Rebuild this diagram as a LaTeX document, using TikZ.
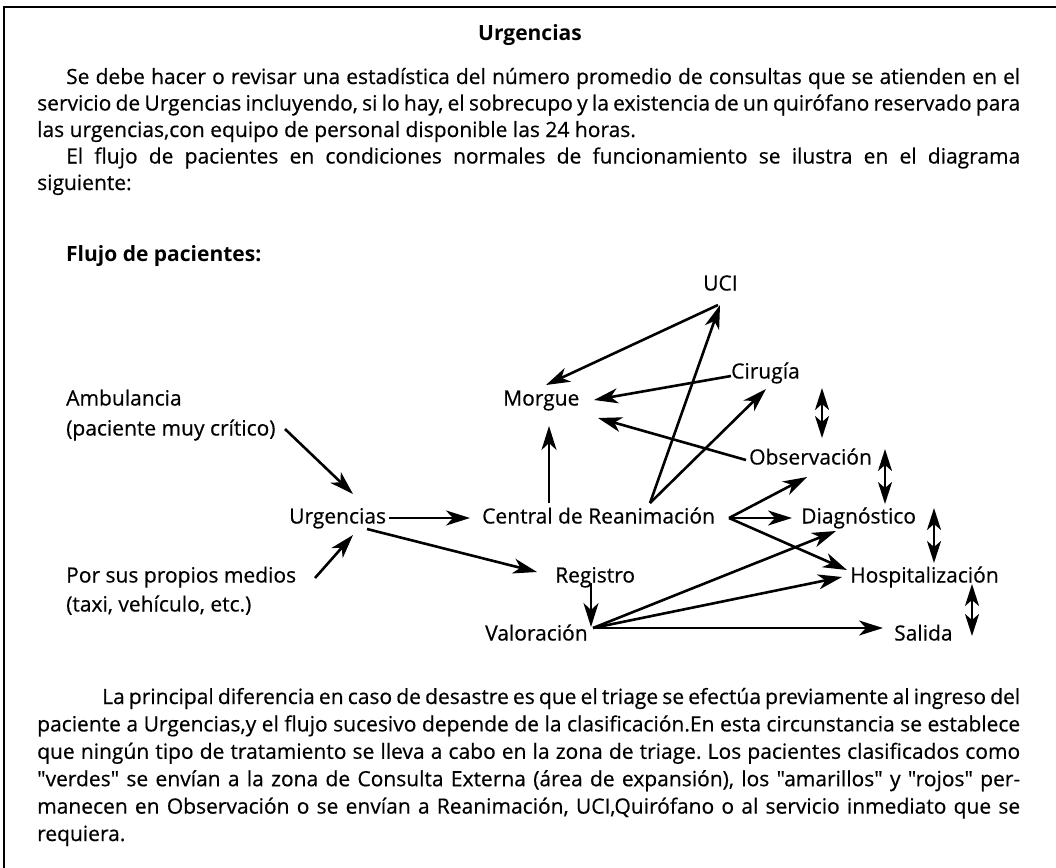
\documentclass[tikz,border=0pt]{standalone}
\usepackage{fontspec}
\setmainfont{Open Sans}[Ligatures=TeXOff,UprightFeatures={FakeBold=0.5}]
\usetikzlibrary{arrows.meta}
\newcommand\txtfont{\fontsize{21}{26.5}\selectfont\frenchspacing}
\newcommand\txtfontb{\fontsize{21}{27.4}\selectfont\frenchspacing}
% a justified line of given width, and a line at natural width
\newcommand\jl[2]{\makebox[#1][s]{\spaceskip=0.26em plus 1em minus 0.12em\relax #2}}
\newcommand\nl[1]{\mbox{\spaceskip=0.26em\relax #1}}
\begin{document}
\begin{tikzpicture}[x=1pt,y=-1pt,
  lbl/.style={anchor=west,inner sep=0pt,text height=15pt,text depth=4pt,font=\txtfont},
  hd/.style={inner sep=0pt,text height=15pt,text depth=4pt,font=\txtfont\bfseries},
  para/.style={anchor=base west,inner sep=0pt,text width=983pt,align=left},
  flow/.style={line width=2.6pt,-{Stealth[length=24pt,width=15pt,inset=7pt]}},
  both/.style={line width=2.6pt,{Stealth[length=22pt,width=14pt,inset=6pt]}-{Stealth[length=22pt,width=14pt,inset=6pt]}},
  frame/.style={line width=1.5pt}]
\useasboundingbox (0,0) rectangle (1056,867);
\draw[frame] (1062,7) -- (4,7) -- (4,870);

% heading and paragraphs
\node[hd,anchor=center] (title) at (530,35) {Urgencias};
\node[para,font=\txtfont] (p1) at (37,84) {%
\hspace*{29pt}\jl{954pt}{Se debe hacer o revisar una estadística del número promedio de consultas que se atienden en el}\\
\jl{983pt}{servicio de Urgencias incluyendo, si lo hay, el sobrecupo y la existencia de un quirófano reservado para}\\
\nl{las urgencias,con equipo de personal disponible las 24 horas.}\\
\hspace*{29pt}\jl{954pt}{El flujo de pacientes en condiciones normales de funcionamiento se ilustra en el diagrama}\\
\nl{siguiente:}};
\node[hd,anchor=west] (flujo) at (66,256) {Flujo de pacientes:};

% diagram labels
\node[lbl] (uci) at (703,285) {UCI};
\node[lbl] (cir) at (731,373) {Cirugía};
\node[lbl] (mor) at (503,400) {Morgue};
\node[lbl] (amb1) at (66,400) {Ambulancia};
\node[lbl] (amb2) at (66,430) {(paciente muy crítico)};
\node[lbl] (obs) at (749,459) {Observación};
\node[lbl] (urg) at (289,518) {Urgencias};
\node[lbl] (cen) at (482,518) {Central de Reanimación};
\node[lbl] (dia) at (801,518) {Diagnóstico};
\node[lbl] (por1) at (66,577) {Por sus propios medios};
\node[lbl] (por2) at (66,606) {(taxi, vehículo, etc.)};
\node[lbl] (reg) at (555,577) {Registro};
\node[lbl] (hos) at (850,577) {Hospitalización};
\node[lbl] (val) at (485,635) {Valoración};
\node[lbl] (sal) at (894,635) {Salida};

% connectors
\draw[flow] ([shift={(219,-1)}]amb2.west) -- ([shift={(64,-24)}]urg.west);
\draw[flow] ([shift={(249,1)}]por1.west) -- ([shift={(64,17)}]urg.west);
\draw[flow] ([shift={(100,0)}]urg.west) -- ([shift={(-12,0)}]cen.west);
\draw[flow] ([shift={(78,11)}]urg.west) -- ([shift={(-18,-5)}]reg.west);
\draw[flow] ([shift={(67,-15)}]cen.west) -- ([shift={(46,26)}]mor.west);
\draw[flow] ([shift={(168,-15)}]cen.west) -- ([shift={(17,20)}]uci.west);
\draw[flow] ([shift={(168,-15)}]cen.west) -- ([shift={(35,16)}]cir.west);
\draw[flow] ([shift={(15,20)}]uci.west) -- ([shift={(43,-15)}]mor.west);
\draw[flow] ([shift={(0,3)}]cir.west) -- ([shift={(91,0)}]mor.west);
\draw[flow] ([shift={(-3,1)}]obs.west) -- ([shift={(95,18)}]mor.west);
\draw[flow] ([shift={(247,0)}]cen.west) -- ([shift={(58,18)}]obs.west);
\draw[flow] ([shift={(247,0)}]cen.west) -- ([shift={(-9,0)}]dia.west);
\draw[flow] ([shift={(247,0)}]cen.west) -- ([shift={(-3,-7)}]hos.west);
\draw[flow] ([shift={(36,6)}]reg.west) -- ([shift={(106,-8)}]val.west);
\draw[flow] ([shift={(108,-7)}]val.west) -- ([shift={(35,13)}]dia.west);
\draw[flow] ([shift={(108,-7)}]val.west) -- ([shift={(-8,0)}]hos.west);
\draw[flow] ([shift={(108,-7)}]val.west) -- ([shift={(-11,-7)}]sal.west);

% two-way arrows
\draw[both] ([shift={(91,15)}]cir.west) -- ([shift={(73,-21)}]obs.west);
\draw[both] ([shift={(136,-10)}]obs.west) -- ([shift={(84,-14)}]dia.west);
\draw[both] ([shift={(133,-10)}]dia.west) -- ([shift={(84,-14)}]hos.west);
\draw[both] ([shift={(122,7)}]hos.west) -- ([shift={(78,1)}]sal.west);

% closing paragraph
\node[para,font=\txtfontb] (p2) at (37,704) {%
\hspace*{65pt}\jl{918pt}{La principal diferencia en caso de desastre es que el triage se efectúa previamente al ingreso del}\\
\jl{983pt}{paciente a Urgencias,y el flujo sucesivo depende de la clasificación.En esta circunstancia se establece}\\
\jl{983pt}{que ningún tipo de tratamiento se lleva a cabo en la zona de triage. Los pacientes clasificados como}\\
\jl{983pt}{"verdes" se envían a la zona de Consulta Externa (área de expansión), los "amarillos" y "rojos" per-}\\
\jl{983pt}{manecen en Observación o se envían a Reanimación, UCI,Quirófano o al servicio inmediato que se}\\
\nl{requiera.}};
\end{tikzpicture}
\end{document}
